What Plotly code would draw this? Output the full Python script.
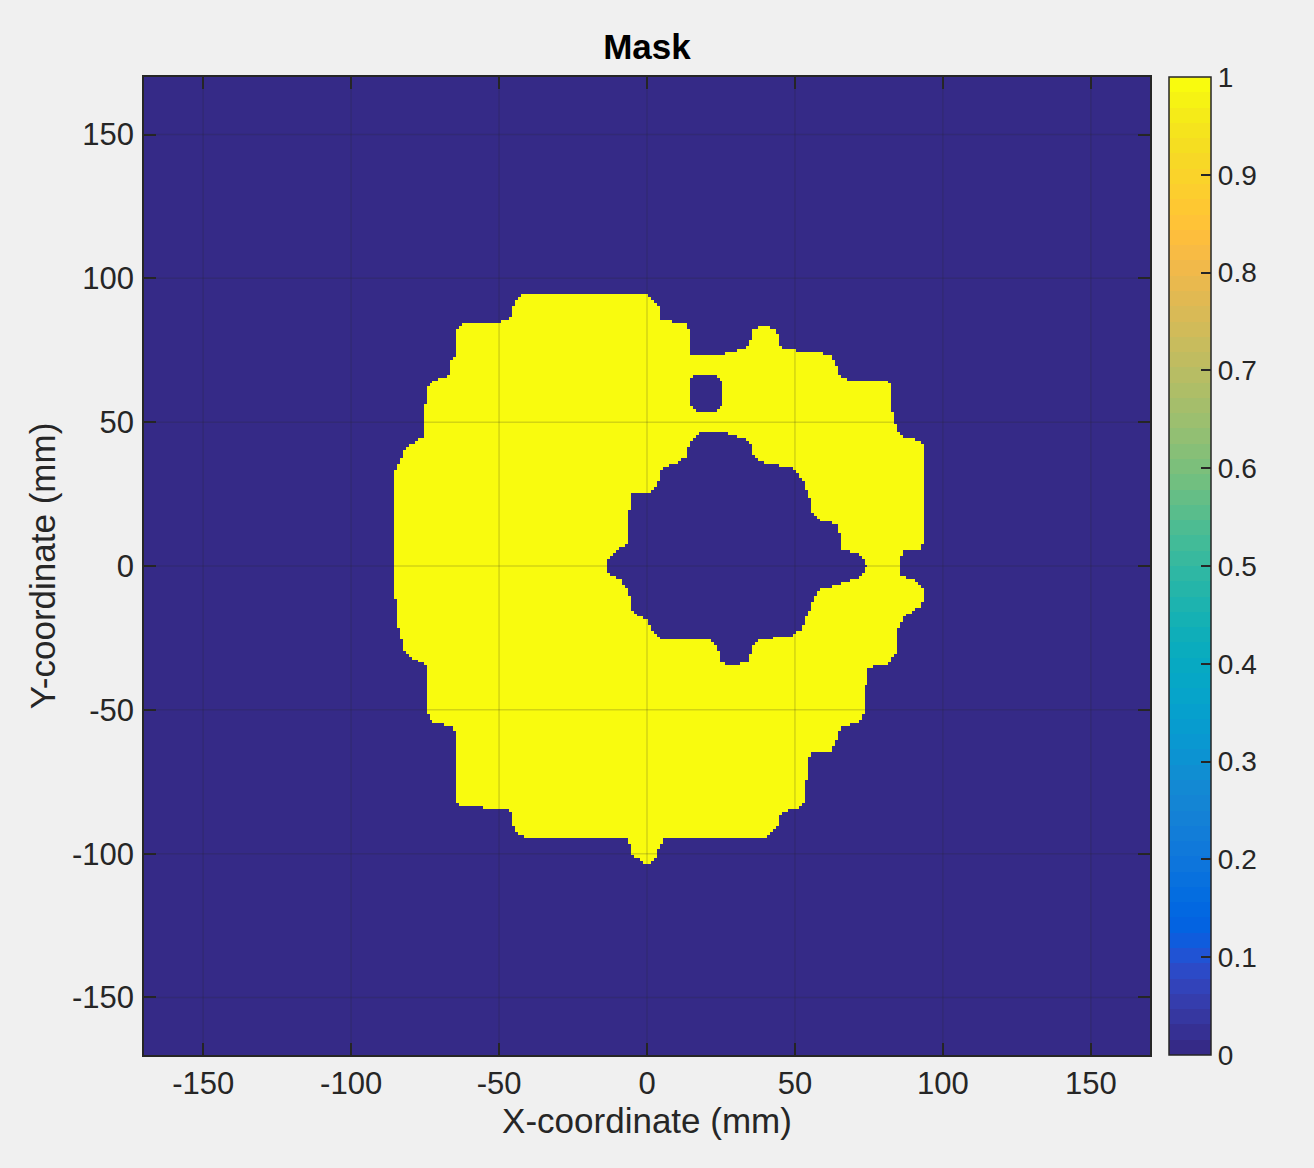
import numpy as np
import plotly.graph_objects as go

# ---- data (mm) ----
outer_x = [-41.3, -0.3, 4.1, 4.7, 13.2, 14.2, 14.9, 26.1, 34.5, 35.6, 38.9, 43.7, 44.7, 51.5, 61.6, 64.0,
           65.7, 81.3, 83.0, 83.0, 85.3, 92.1, 93.8, 93.8, 92.1, 86.3, 85.3, 86.0, 91.1, 93.8, 92.8, 87.0,
           84.7, 84.3, 81.3, 75.2, 74.2, 73.5, 71.8, 65.7, 64.3, 62.3, 55.9, 54.2, 53.8, 52.1, 45.4, 44.0,
           40.6, 5.8, 4.7, 3.0, -0.3, -5.1, -6.1, -6.1, -41.0, -43.3, -45.0, -45.7, -47.7, -62.6, -64.3,
           -64.7, -66.0, -72.8, -74.5, -74.8, -76.2, -79.9, -82.3, -83.3, -84.7, -85.0, -85.0, -83.3, -81.6,
           -78.2, -75.5, -74.8, -73.1, -70.4, -67.0, -66.0, -64.7, -64.3, -62.6, -62.6, -52.5, -47.7, -45.7,
           -45.0, -43.3]
outer_y = [94.7, 94.7, 90.5, 85.3, 84.6, 81.8, 73.8, 73.8, 76.2, 81.8, 83.9, 82.5, 76.2, 74.8, 73.8, 69.6,
           65.1, 64.1, 61.6, 53.6, 45.3, 43.5, 40.7, 8.4, 5.9, 4.9, 0.0, -3.5, -5.2, -9.1, -13.9, -17.4,
           -21.9, -29.9, -34.1, -35.2, -38.3, -50.8, -54.0, -55.7, -60.2, -64.4, -64.7, -68.2, -81.1, -83.9,
           -85.6, -90.5, -94.0, -94.3, -96.8, -102.0, -103.7, -100.3, -95.7, -94.3, -94.3, -93.3, -90.5,
           -85.6, -84.6, -83.5, -82.2, -57.8, -55.7, -54.0, -50.8, -34.8, -33.4, -31.7, -28.9, -24.4, -19.5,
           -11.5, 33.1, 36.6, 41.4, 43.2, 45.3, 61.6, 63.4, 65.1, 66.1, 71.0, 73.1, 82.5, 83.5, 84.2, 84.2,
           85.3, 86.7, 90.2, 93.6]

inner_x = [18.3, 25.1, 27.8, 33.5, 35.2, 35.6, 38.9, 47.1, 49.8, 53.2, 54.9, 55.9, 58.9, 64.0, 65.0, 66.0,
           72.8, 74.2, 72.8, 65.0, 58.2, 55.9, 54.2, 52.5, 48.8, 38.6, 35.6, 34.5, 29.5, 25.1, 23.7, 21.0,
           4.7, 3.0, -0.3, -5.4, -6.1, -8.5, -13.5, -13.5, -10.5, -6.8, -6.1, -5.1, 1.7, 4.1, 5.1, 9.8,
           13.5, 14.2]
inner_y = [47.0, 46.6, 45.9, 44.2, 42.5, 38.3, 36.2, 34.5, 33.8, 29.2, 24.4, 18.8, 15.7, 14.6, 11.8, 5.9,
           3.5, 0.0, -3.5, -6.3, -8.0, -13.2, -17.4, -21.9, -24.4, -25.4, -27.8, -33.1, -34.8, -33.4, -27.8,
           -25.4, -25.1, -23.7, -18.5, -15.7, -9.1, -5.2, -2.1, 2.4, 4.9, 7.7, 18.8, 25.1, 26.1, 29.2, 34.5,
           35.5, 38.3, 43.2]

hole_x = [15.9, 23.4, 25.1, 25.1, 23.7, 16.6, 14.2, 14.2]
hole_y = [66.1, 66.1, 64.1, 55.7, 54.0, 54.0, 55.7, 64.1]

grid_x = np.arange(-170, 171, 1.0)
grid_y = np.arange(-170, 171, 1.0)

x_ticks = [-150, -100, -50, 0, 50, 100, 150]
y_ticks = [-150, -100, -50, 0, 50, 100, 150]
cb_ticks = [0, 0.1, 0.2, 0.3, 0.4, 0.5, 0.6, 0.7, 0.8, 0.9, 1]

parula = [
    [0.2081, 0.1663, 0.5292], [0.2116, 0.1898, 0.5777], [0.2123, 0.2138, 0.6270], [0.2081, 0.2386, 0.6771],
    [0.1959, 0.2645, 0.7279], [0.1707, 0.2919, 0.7792], [0.1253, 0.3242, 0.8303], [0.0591, 0.3598, 0.8683],
    [0.0117, 0.3875, 0.8820], [0.0060, 0.4086, 0.8828], [0.0165, 0.4266, 0.8786], [0.0329, 0.4430, 0.8720],
    [0.0498, 0.4586, 0.8641], [0.0629, 0.4737, 0.8554], [0.0723, 0.4887, 0.8467], [0.0779, 0.5040, 0.8384],
    [0.0793, 0.5200, 0.8312], [0.0749, 0.5375, 0.8263], [0.0641, 0.5570, 0.8240], [0.0488, 0.5772, 0.8228],
    [0.0343, 0.5966, 0.8199], [0.0265, 0.6137, 0.8135], [0.0239, 0.6287, 0.8038], [0.0231, 0.6418, 0.7913],
    [0.0228, 0.6535, 0.7768], [0.0267, 0.6642, 0.7607], [0.0384, 0.6743, 0.7436], [0.0590, 0.6838, 0.7254],
    [0.0843, 0.6928, 0.7062], [0.1133, 0.7015, 0.6859], [0.1453, 0.7098, 0.6646], [0.1801, 0.7177, 0.6424],
    [0.2178, 0.7250, 0.6193], [0.2586, 0.7317, 0.5954], [0.3022, 0.7376, 0.5712], [0.3482, 0.7424, 0.5473],
    [0.3953, 0.7459, 0.5244], [0.4420, 0.7481, 0.5033], [0.4871, 0.7491, 0.4840], [0.5300, 0.7491, 0.4661],
    [0.5709, 0.7485, 0.4494], [0.6099, 0.7473, 0.4337], [0.6473, 0.7456, 0.4188], [0.6834, 0.7435, 0.4044],
    [0.7184, 0.7411, 0.3905], [0.7525, 0.7384, 0.3768], [0.7858, 0.7356, 0.3633], [0.8185, 0.7327, 0.3498],
    [0.8507, 0.7299, 0.3360], [0.8824, 0.7274, 0.3217], [0.9139, 0.7258, 0.3063], [0.9450, 0.7261, 0.2886],
    [0.9739, 0.7314, 0.2666], [0.9938, 0.7455, 0.2403], [0.9990, 0.7653, 0.2164], [0.9955, 0.7861, 0.1967],
    [0.9880, 0.8066, 0.1794], [0.9789, 0.8271, 0.1633], [0.9697, 0.8481, 0.1475], [0.9626, 0.8705, 0.1309],
    [0.9589, 0.8949, 0.1132], [0.9598, 0.9218, 0.0948], [0.9661, 0.9514, 0.0755], [0.9763, 0.9831, 0.0538]]


def inside(px, py, X, Y):
    px = np.asarray(px); py = np.asarray(py)
    res = np.zeros(X.shape, dtype=bool)
    n = len(px)
    for i in range(n):
        x1, y1 = px[i], py[i]
        x2, y2 = px[(i + 1) % n], py[(i + 1) % n]
        cond = (y1 > Y) != (y2 > Y)
        with np.errstate(divide="ignore", invalid="ignore"):
            xint = x1 + (Y - y1) * (x2 - x1) / (y2 - y1)
        res ^= cond & (X < xint)
    return res


GX, GY = np.meshgrid(grid_x, grid_y)
mask = inside(outer_x, outer_y, GX, GY) & ~inside(inner_x, inner_y, GX, GY) & ~inside(hole_x, hole_y, GX, GY)
z = mask.astype(float)

cs = []
n = len(parula)
for i, c in enumerate(parula):
    col = "rgb(%d,%d,%d)" % tuple(int(round(v * 255)) for v in c)
    cs.append([i / n, col])
    cs.append([(i + 1) / n, col])

FONT = "Liberation Sans, Arial, Helvetica, sans-serif"
TXT = "#262626"

fig = go.Figure()
fig.add_trace(go.Heatmap(
    x=grid_x, y=grid_y, z=z, zmin=0, zmax=1, colorscale=cs, zsmooth=False,
    colorbar=dict(
        x=(1169 - 143) / 1007, xanchor="left", xref="paper", xpad=0, ypad=0,
        y=0.5, yanchor="middle", len=1, lenmode="fraction",
        thickness=42, thicknessmode="pixels",
        outlinecolor=TXT, outlinewidth=1.5,
        tickvals=cb_ticks, ticktext=[("%g" % v) for v in cb_ticks],
        ticks="inside", ticklen=10, tickwidth=1.5, tickcolor=TXT,
        tickfont=dict(family=FONT, size=28, color=TXT),
    ),
    hoverinfo="skip",
))

# grid lines on top of the image (MATLAB style)
for v in x_ticks:
    fig.add_shape(type="line", xref="x", yref="paper", x0=v, x1=v, y0=0, y1=1,
                  line=dict(color="rgba(38,38,38,0.18)", width=1.5), layer="above")
for v in y_ticks:
    fig.add_shape(type="line", xref="paper", yref="y", x0=0, x1=1, y0=v, y1=v,
                  line=dict(color="rgba(38,38,38,0.18)", width=1.5), layer="above")

axis_common = dict(
    showgrid=False, zeroline=False, showline=True, mirror="ticks", linecolor=TXT, linewidth=1.5,
    ticks="inside", ticklen=12, tickwidth=1.5, tickcolor=TXT,
    tickfont=dict(family=FONT, size=31, color=TXT), automargin=False, layer="above traces",
)

fig.update_layout(
    width=1314, height=1168,
    paper_bgcolor="#f0f0f0", plot_bgcolor="#f0f0f0",
    margin=dict(l=144, r=164, t=77, b=113),
    title=dict(text="<b>Mask</b>", x=0.5, xref="paper", xanchor="center",
               y=1 - 47 / 1168, yref="container", yanchor="middle",
               font=dict(family=FONT, size=35, color="#000000")),
    xaxis=dict(range=[-170, 170], tickvals=x_ticks, ticktext=[str(v) for v in x_ticks],
               ticklabelstandoff=0,
               title=dict(text="X-coordinate (mm)", standoff=0, font=dict(family=FONT, size=35, color=TXT)),
               **axis_common),
    yaxis=dict(range=[-170, 170], tickvals=y_ticks, ticktext=[str(v) for v in y_ticks],
               ticklabelstandoff=2,
               title=dict(text="Y-coordinate (mm)", standoff=6, font=dict(family=FONT, size=35, color=TXT)),
               **axis_common),
)

fig.write_html("out.html", config={"displayModeBar": False},
               post_script="document.body.style.margin='0';document.body.style.background='#f0f0f0';")
